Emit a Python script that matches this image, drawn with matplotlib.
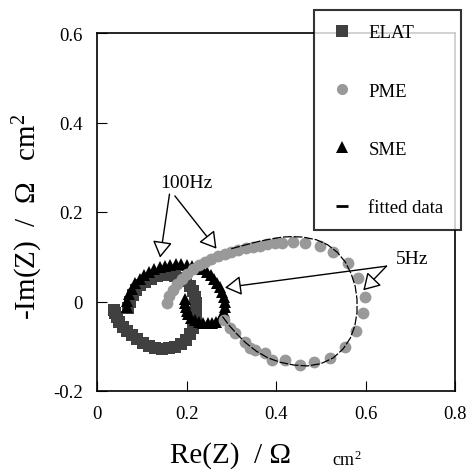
import matplotlib.pyplot as plt
from matplotlib.lines import Line2D

plt.rcParams['font.family'] = ['Liberation Serif', 'DejaVu Serif']
plt.rcParams['mathtext.fontset'] = 'custom'
plt.rcParams['mathtext.rm'] = 'Liberation Serif'
plt.rcParams['mathtext.it'] = 'Liberation Serif:italic'

# ELAT (dark grey squares)
elat_x = [0.070, 0.074, 0.080, 0.088, 0.097, 0.108, 0.120, 0.133, 0.147, 0.161,
          0.175, 0.188, 0.199, 0.208, 0.215, 0.219, 0.221, 0.222, 0.221, 0.219,
          0.215, 0.208, 0.199, 0.188, 0.175, 0.160, 0.145, 0.130, 0.116, 0.103,
          0.090, 0.078, 0.067, 0.057, 0.050, 0.044, 0.040, 0.038]
elat_y = [-0.015, 0.000, 0.014, 0.026, 0.036, 0.044, 0.051, 0.056, 0.059, 0.060,
          0.058, 0.053, 0.045, 0.035, 0.023, 0.010, -0.004, -0.018, -0.032, -0.046,
          -0.060, -0.073, -0.085, -0.094, -0.101, -0.105, -0.106, -0.104, -0.099, -0.092,
          -0.084, -0.075, -0.066, -0.056, -0.045, -0.034, -0.025, -0.018]

# SME (black triangles)
sme_x = [0.066, 0.068, 0.072, 0.078, 0.086, 0.095, 0.105, 0.116, 0.128, 0.140,
         0.152, 0.164, 0.176, 0.188, 0.200, 0.212, 0.224, 0.235, 0.245, 0.254,
         0.262, 0.269, 0.275, 0.280, 0.284, 0.286, 0.286, 0.284, 0.280, 0.274,
         0.266, 0.257, 0.247, 0.237, 0.227, 0.218, 0.210, 0.204, 0.200, 0.198,
         0.197, 0.197]
sme_y = [-0.012, 0.002, 0.016, 0.029, 0.041, 0.051, 0.060, 0.067, 0.073, 0.077,
         0.080, 0.082, 0.083, 0.083, 0.082, 0.080, 0.077, 0.072, 0.066, 0.059,
         0.051, 0.042, 0.032, 0.021, 0.010, -0.001, -0.012, -0.023, -0.032, -0.040,
         -0.045, -0.048, -0.049, -0.048, -0.046, -0.042, -0.036, -0.029, -0.021, -0.012,
         -0.003, 0.006]

# PME (grey circles)
pme_x = [0.156, 0.162, 0.170, 0.179, 0.190, 0.201, 0.214, 0.227, 0.241, 0.255,
         0.270, 0.285, 0.300, 0.316, 0.332, 0.348, 0.364, 0.380, 0.397, 0.413,
         0.438, 0.465, 0.498, 0.527, 0.562, 0.584, 0.599, 0.595, 0.579, 0.554,
         0.521, 0.484, 0.454, 0.420, 0.391, 0.376, 0.353, 0.342, 0.331, 0.309,
         0.298, 0.283]
pme_y = [-0.003, 0.012, 0.026, 0.039, 0.051, 0.062, 0.072, 0.081, 0.089, 0.096,
         0.102, 0.107, 0.111, 0.115, 0.119, 0.122, 0.125, 0.128, 0.130, 0.131,
         0.133, 0.130, 0.123, 0.110, 0.086, 0.052, 0.011, -0.026, -0.067, -0.101,
         -0.127, -0.135, -0.142, -0.131, -0.131, -0.116, -0.108, -0.105, -0.090, -0.071,
         -0.060, -0.041]

# fitted curve (PME)
fit_x = [0.300, 0.330, 0.360, 0.390, 0.415, 0.435, 0.460, 0.490, 0.515, 0.537,
         0.555, 0.568, 0.577, 0.581, 0.581, 0.576, 0.566, 0.550, 0.528, 0.500,
         0.470, 0.440, 0.410, 0.382, 0.356, 0.332, 0.312, 0.295, 0.280]
fit_y = [0.118, 0.126, 0.134, 0.140, 0.144, 0.145, 0.144, 0.138, 0.127, 0.110,
         0.088, 0.062, 0.034, 0.005, -0.025, -0.055, -0.082, -0.106, -0.126, -0.139,
         -0.144, -0.142, -0.136, -0.126, -0.111, -0.092, -0.072, -0.053, -0.033]

xticks = [0, 0.2, 0.4, 0.6, 0.8]
xlabels = ['0', '0.2', '0.4', '0.6', '0.8']
yticks = [-0.2, 0, 0.2, 0.4, 0.6]
ylabels = ['-0.2', '0', '0.2', '0.4', '0.6']

fig = plt.figure(figsize=(4.69, 4.77), dpi=100)
ax = fig.add_axes([97 / 469, 85 / 477, 358 / 469, 358 / 477])

ax.plot(elat_x, elat_y, 's', color='#404040', markersize=8.5, markeredgewidth=0)
ax.plot(sme_x, sme_y, '^', color='black', markersize=8, markeredgewidth=0)
ax.plot(pme_x, pme_y, 'o', color='#999999', markersize=8.5, markeredgewidth=0)
ax.plot(fit_x, fit_y, color='black', linewidth=0.9, linestyle=(0, (7, 1.5)))

ax.set_xlim(0, 0.8)
ax.set_ylim(-0.2, 0.6)
ax.set_xticks(xticks, xlabels)
ax.set_yticks(yticks, ylabels)
ax.tick_params(direction='in', length=7, width=0.8, labelsize=13.5, pad=10,
               top=False, right=False)
for s in ax.spines.values():
    s.set_linewidth(1.2)

# arrows
arrow = dict(arrowstyle='-|>,head_length=0.5,head_width=0.3', mutation_scale=20,
             facecolor='white', edgecolor='black', lw=1, shrinkA=0, shrinkB=0)
ax.annotate('', xy=(0.141, 0.098), xytext=(0.162, 0.240), arrowprops=arrow)
ax.annotate('', xy=(0.267, 0.118), xytext=(0.174, 0.236), arrowprops=arrow)
ax.annotate('', xy=(0.286, 0.031), xytext=(0.647, 0.079), arrowprops=arrow)
ax.annotate('', xy=(0.595, 0.025), xytext=(0.647, 0.079), arrowprops=arrow)
ax.text(0.200, 0.267, '100Hz', fontsize=14, ha='center', va='center')
ax.text(0.705, 0.096, '5Hz', fontsize=14, ha='center', va='center')

# axis labels
fig.text(170 / 469, 14 / 477, 'Re(Z)  / Ω', fontsize=21, ha='left', va='baseline')
fig.text(332 / 469, 11 / 477, 'cm$^2$', fontsize=13, ha='left', va='baseline')
fig.text(28 / 469, 1 - 217 / 477, '-Im(Z)  /  Ω   cm$^2$', fontsize=21,
         rotation=90, ha='center', va='center')

# legend
handles = [
    Line2D([], [], marker='s', color='#404040', linestyle='None', markersize=8, markeredgewidth=0),
    Line2D([], [], marker='o', color='#999999', linestyle='None', markersize=8, markeredgewidth=0),
    Line2D([], [], marker='^', color='black', linestyle='None', markersize=8, markeredgewidth=0),
    Line2D([], [], marker='_', color='black', linestyle='None', markersize=8, markeredgewidth=2),
]
names = ['ELAT', 'PME', 'SME', 'fitted data']
leg = fig.legend(handles, names, loc='upper left',
                 bbox_to_anchor=(314 / 469, 251 / 477, 147 / 469, 215 / 477),
                 mode='expand', borderaxespad=0, fontsize=13.5, frameon=True,
                 fancybox=False, edgecolor='black', labelspacing=2.2,
                 handlelength=1.5, handletextpad=0.65, borderpad=0.75)
leg.get_frame().set_linewidth(1.5)

fig.savefig('out.png', dpi=100)
